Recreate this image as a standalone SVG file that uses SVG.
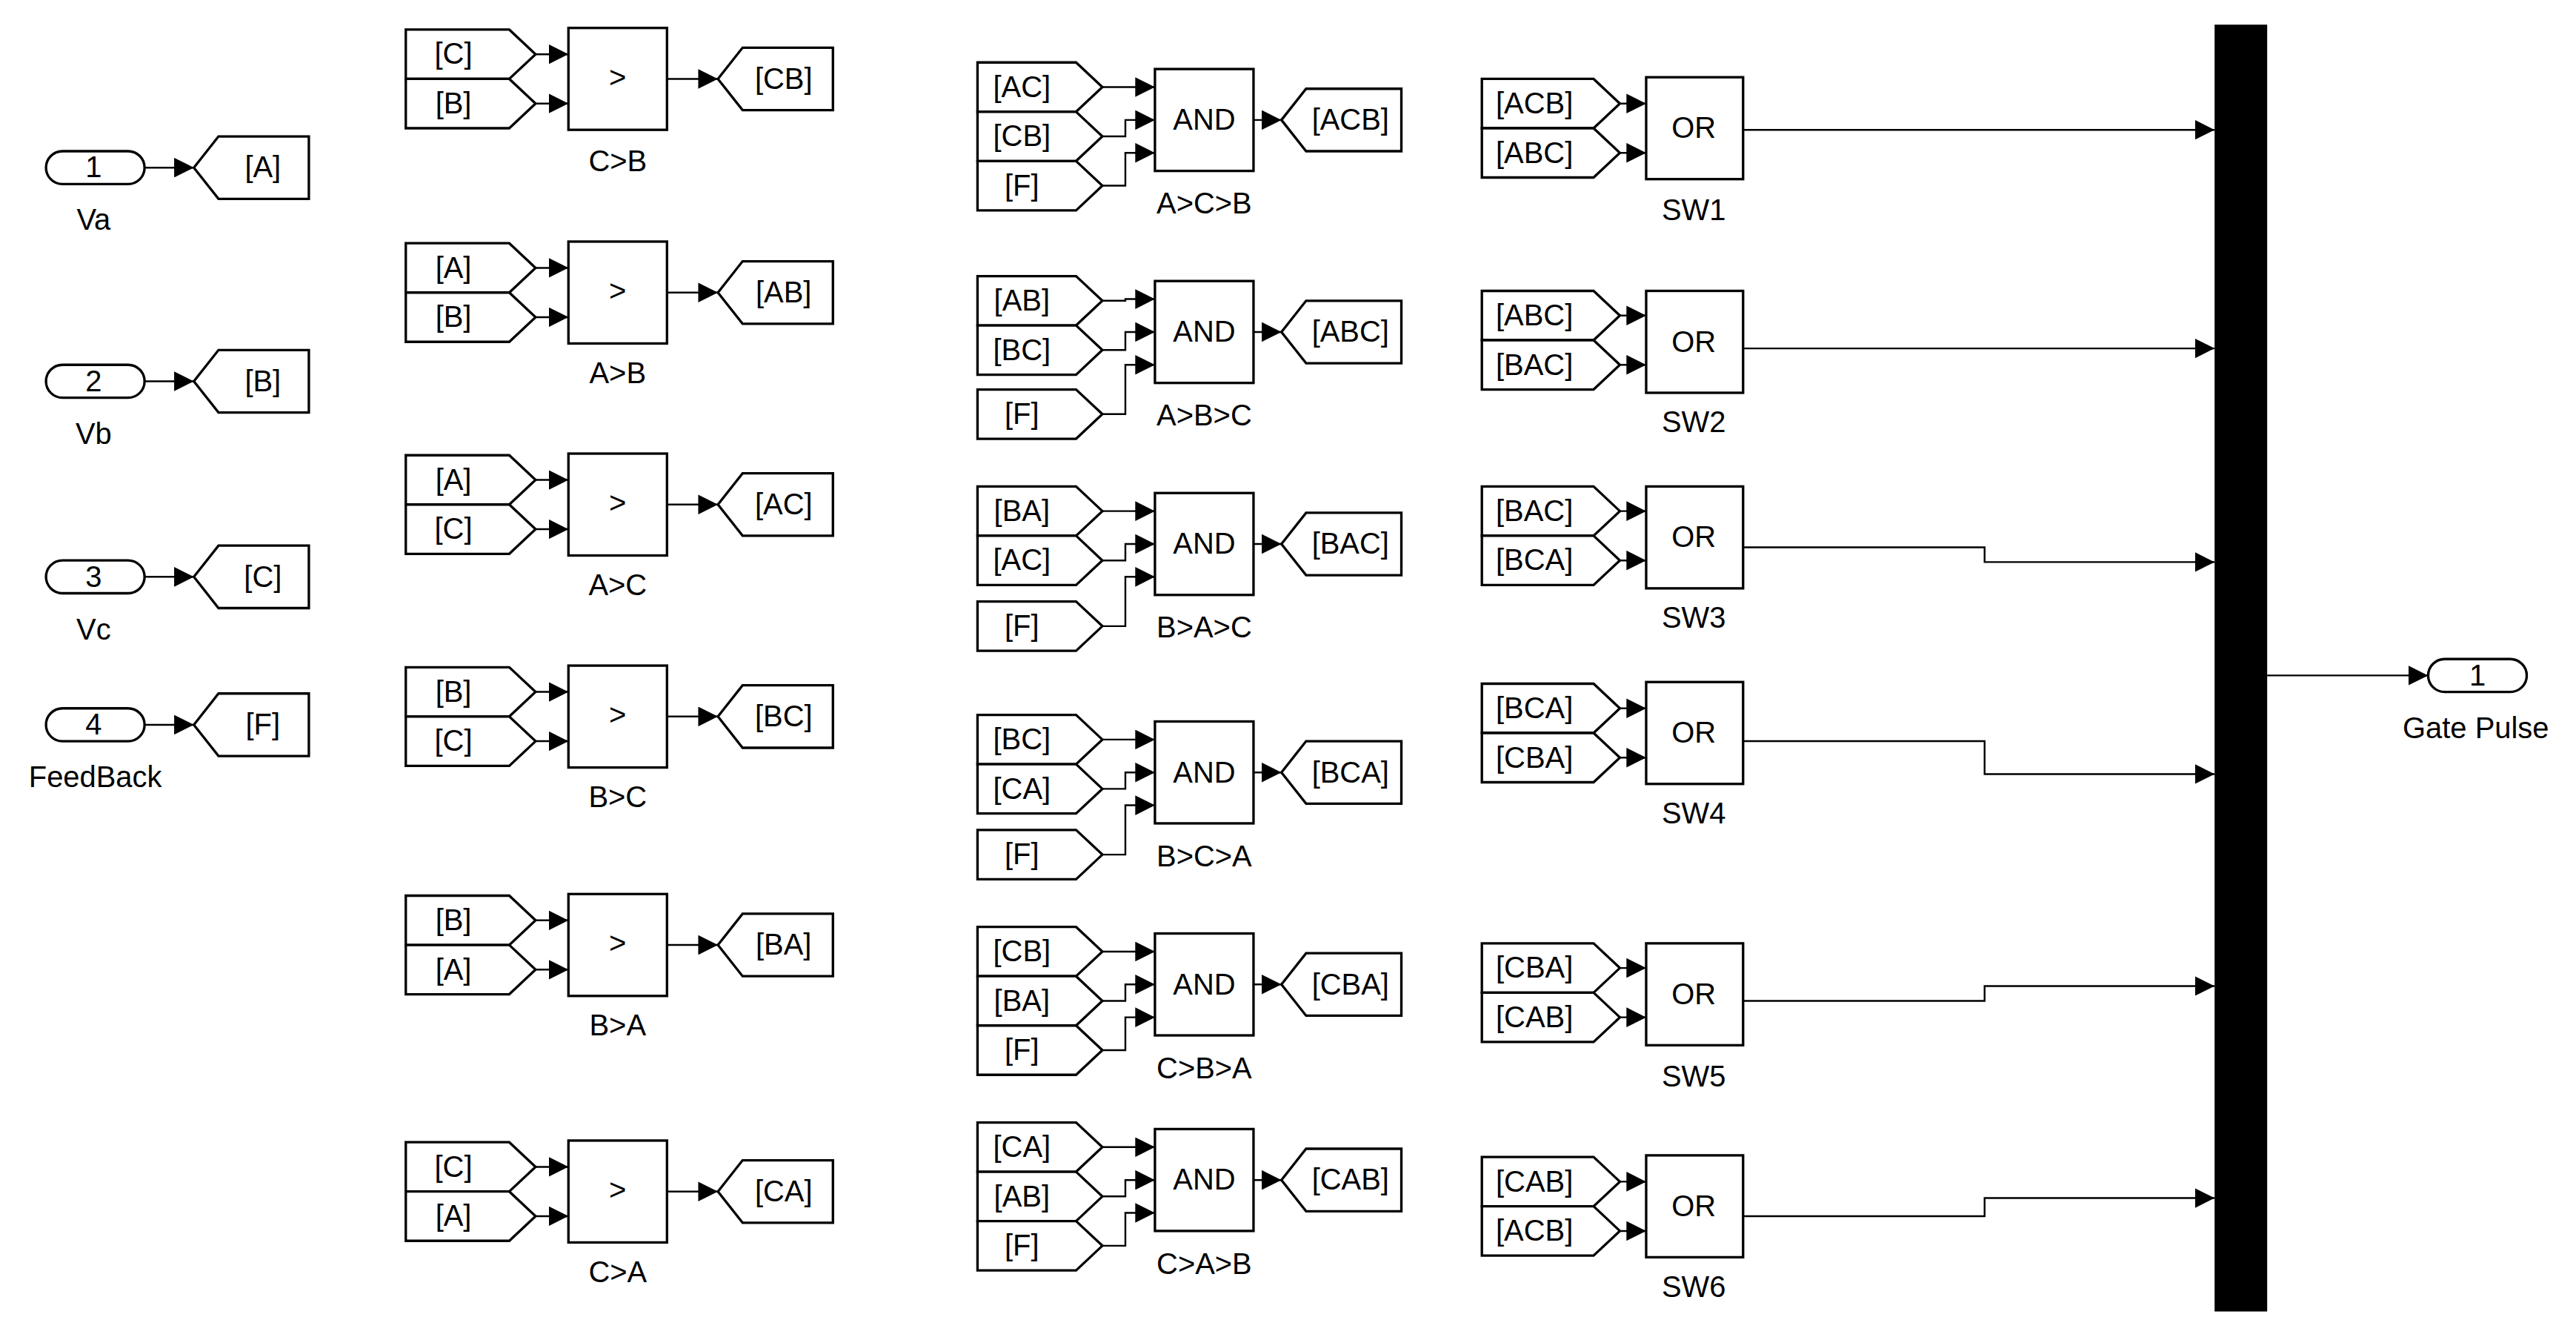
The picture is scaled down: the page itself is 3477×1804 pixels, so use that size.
<svg xmlns="http://www.w3.org/2000/svg" width="3477" height="1804" viewBox="0 0 3477 1804">
<defs>
<marker id="ar" markerUnits="userSpaceOnUse" markerWidth="13" markerHeight="12" refX="12" refY="6" orient="auto"><path d="M0,0 L12,6 L0,12 z" fill="#000"/></marker>
<style>
.b{fill:#fff;stroke:#000;stroke-width:1.5}
.t{font-family:"Liberation Sans",Arial,sans-serif;font-size:18px;fill:#000;text-anchor:middle}
.l{font-family:"Liberation Sans",Arial,sans-serif;font-size:18px;fill:#000;text-anchor:middle}
.c{fill:none;stroke:#000;stroke-width:1.1;marker-end:url(#ar)}
</style>
</defs>
<rect width="3477" height="1804" fill="#fff"/>
<g transform="scale(2.2175)">
<g id="in1"><rect class="b" x="28" y="92" width="60" height="20" rx="10"/><text class="t" x="57" y="108">1</text><text class="l" x="57" y="140">Va</text></g>
<g id="in2"><rect class="b" x="28" y="222" width="60" height="20" rx="10"/><text class="t" x="57" y="238">2</text><text class="l" x="57" y="270">Vb</text></g>
<g id="in3"><rect class="b" x="28" y="341" width="60" height="20" rx="10"/><text class="t" x="57" y="357">3</text><text class="l" x="57" y="389">Vc</text></g>
<g id="in4"><rect class="b" x="28" y="431" width="60" height="20" rx="10"/><text class="t" x="57" y="447">4</text><text class="l" x="58" y="479">FeedBack</text></g>
<g id="gA"><polygon class="b" points="118,102 133,83 188,83 188,121 133,121"/><text class="t" x="160" y="108">[A]</text></g>
<g id="gB"><polygon class="b" points="118,232 133,213 188,213 188,251 133,251"/><text class="t" x="160" y="238">[B]</text></g>
<g id="gC"><polygon class="b" points="118,351 133,332 188,332 188,370 133,370"/><text class="t" x="160" y="357">[C]</text></g>
<g id="gF"><polygon class="b" points="118,441 133,422 188,422 188,460 133,460"/><text class="t" x="160" y="447">[F]</text></g>

<g id="cmpCB"><polygon class="b" points="247,18 310,18 326,33 310,48 247,48"/><text class="t" x="276" y="39">[C]</text><polygon class="b" points="247,48 310,48 326,63 310,78 247,78"/><text class="t" x="276" y="69">[B]</text><rect class="b" x="346" y="17" width="60" height="62"/><text class="t" x="376" y="53">&gt;</text><text class="l" x="376" y="104">C&gt;B</text><polygon class="b" points="437,48 452,29 507,29 507,67 452,67"/><text class="t" x="477" y="54">[CB]</text></g>
<g id="cmpAB"><polygon class="b" points="247,148 310,148 326,163 310,178 247,178"/><text class="t" x="276" y="169">[A]</text><polygon class="b" points="247,178 310,178 326,193 310,208 247,208"/><text class="t" x="276" y="199">[B]</text><rect class="b" x="346" y="147" width="60" height="62"/><text class="t" x="376" y="183">&gt;</text><text class="l" x="376" y="233">A&gt;B</text><polygon class="b" points="437,178 452,159 507,159 507,197 452,197"/><text class="t" x="477" y="184">[AB]</text></g>
<g id="cmpAC"><polygon class="b" points="247,277 310,277 326,292 310,307 247,307"/><text class="t" x="276" y="298">[A]</text><polygon class="b" points="247,307 310,307 326,322 310,337 247,337"/><text class="t" x="276" y="328">[C]</text><rect class="b" x="346" y="276" width="60" height="62"/><text class="t" x="376" y="312">&gt;</text><text class="l" x="376" y="362">A&gt;C</text><polygon class="b" points="437,307 452,288 507,288 507,326 452,326"/><text class="t" x="477" y="313">[AC]</text></g>
<g id="cmpBC"><polygon class="b" points="247,406 310,406 326,421 310,436 247,436"/><text class="t" x="276" y="427">[B]</text><polygon class="b" points="247,436 310,436 326,451 310,466 247,466"/><text class="t" x="276" y="457">[C]</text><rect class="b" x="346" y="405" width="60" height="62"/><text class="t" x="376" y="441">&gt;</text><text class="l" x="376" y="491">B&gt;C</text><polygon class="b" points="437,436 452,417 507,417 507,455 452,455"/><text class="t" x="477" y="442">[BC]</text></g>
<g id="cmpBA"><polygon class="b" points="247,545 310,545 326,560 310,575 247,575"/><text class="t" x="276" y="566">[B]</text><polygon class="b" points="247,575 310,575 326,590 310,605 247,605"/><text class="t" x="276" y="596">[A]</text><rect class="b" x="346" y="544" width="60" height="62"/><text class="t" x="376" y="580">&gt;</text><text class="l" x="376" y="630">B&gt;A</text><polygon class="b" points="437,575 452,556 507,556 507,594 452,594"/><text class="t" x="477" y="581">[BA]</text></g>
<g id="cmpCA"><polygon class="b" points="247,695 310,695 326,710 310,725 247,725"/><text class="t" x="276" y="716">[C]</text><polygon class="b" points="247,725 310,725 326,740 310,755 247,755"/><text class="t" x="276" y="746">[A]</text><rect class="b" x="346" y="694" width="60" height="62"/><text class="t" x="376" y="730">&gt;</text><text class="l" x="376" y="780">C&gt;A</text><polygon class="b" points="437,725 452,706 507,706 507,744 452,744"/><text class="t" x="477" y="731">[CA]</text></g>

<g id="and1"><polygon class="b" points="595,38 655,38 671,53 655,68 595,68"/><text class="t" x="622" y="59">[AC]</text><polygon class="b" points="595,68 655,68 671,83 655,98 595,98"/><text class="t" x="622" y="89">[CB]</text><polygon class="b" points="595,98 655,98 671,113 655,128 595,128"/><text class="t" x="622" y="119">[F]</text><rect class="b" x="703" y="42" width="60" height="62"/><text class="t" x="733" y="79">AND</text><text class="l" x="733" y="130">A&gt;C&gt;B</text><polygon class="b" points="780,73 795,54 853,54 853,92 795,92"/><text class="t" x="822" y="79">[ACB]</text></g>
<g id="and2"><polygon class="b" points="595,168 655,168 671,183 655,198 595,198"/><text class="t" x="622" y="189">[AB]</text><polygon class="b" points="595,198 655,198 671,213 655,228 595,228"/><text class="t" x="622" y="219">[BC]</text><polygon class="b" points="595,237 655,237 671,252 655,267 595,267"/><text class="t" x="622" y="258">[F]</text><rect class="b" x="703" y="171" width="60" height="62"/><text class="t" x="733" y="208">AND</text><text class="l" x="733" y="259">A&gt;B&gt;C</text><polygon class="b" points="780,202 795,183 853,183 853,221 795,221"/><text class="t" x="822" y="208">[ABC]</text></g>
<g id="and3"><polygon class="b" points="595,296 655,296 671,311 655,326 595,326"/><text class="t" x="622" y="317">[BA]</text><polygon class="b" points="595,326 655,326 671,341 655,356 595,356"/><text class="t" x="622" y="347">[AC]</text><polygon class="b" points="595,366 655,366 671,381 655,396 595,396"/><text class="t" x="622" y="387">[F]</text><rect class="b" x="703" y="300" width="60" height="62"/><text class="t" x="733" y="337">AND</text><text class="l" x="733" y="388">B&gt;A&gt;C</text><polygon class="b" points="780,331 795,312 853,312 853,350 795,350"/><text class="t" x="822" y="337">[BAC]</text></g>
<g id="and4"><polygon class="b" points="595,435 655,435 671,450 655,465 595,465"/><text class="t" x="622" y="456">[BC]</text><polygon class="b" points="595,465 655,465 671,480 655,495 595,495"/><text class="t" x="622" y="486">[CA]</text><polygon class="b" points="595,505 655,505 671,520 655,535 595,535"/><text class="t" x="622" y="526">[F]</text><rect class="b" x="703" y="439" width="60" height="62"/><text class="t" x="733" y="476">AND</text><text class="l" x="733" y="527">B&gt;C&gt;A</text><polygon class="b" points="780,470 795,451 853,451 853,489 795,489"/><text class="t" x="822" y="476">[BCA]</text></g>
<g id="and5"><polygon class="b" points="595,564 655,564 671,579 655,594 595,594"/><text class="t" x="622" y="585">[CB]</text><polygon class="b" points="595,594 655,594 671,609 655,624 595,624"/><text class="t" x="622" y="615">[BA]</text><polygon class="b" points="595,624 655,624 671,639 655,654 595,654"/><text class="t" x="622" y="645">[F]</text><rect class="b" x="703" y="568" width="60" height="62"/><text class="t" x="733" y="605">AND</text><text class="l" x="733" y="656">C&gt;B&gt;A</text><polygon class="b" points="780,599 795,580 853,580 853,618 795,618"/><text class="t" x="822" y="605">[CBA]</text></g>
<g id="and6"><polygon class="b" points="595,683 655,683 671,698 655,713 595,713"/><text class="t" x="622" y="704">[CA]</text><polygon class="b" points="595,713 655,713 671,728 655,743 595,743"/><text class="t" x="622" y="734">[AB]</text><polygon class="b" points="595,743 655,743 671,758 655,773 595,773"/><text class="t" x="622" y="764">[F]</text><rect class="b" x="703" y="687" width="60" height="62"/><text class="t" x="733" y="724">AND</text><text class="l" x="733" y="775">C&gt;A&gt;B</text><polygon class="b" points="780,718 795,699 853,699 853,737 795,737"/><text class="t" x="822" y="724">[CAB]</text></g>

<g id="sw1"><polygon class="b" points="902,48 970,48 986,63 970,78 902,78"/><text class="t" x="934" y="69">[ACB]</text><polygon class="b" points="902,78 970,78 986,93 970,108 902,108"/><text class="t" x="934" y="99">[ABC]</text><rect class="b" x="1002" y="47" width="59" height="62"/><text class="t" x="1031" y="84">OR</text><text class="l" x="1031" y="134">SW1</text></g>
<g id="sw2"><polygon class="b" points="902,177 970,177 986,192 970,207 902,207"/><text class="t" x="934" y="198">[ABC]</text><polygon class="b" points="902,207 970,207 986,222 970,237 902,237"/><text class="t" x="934" y="228">[BAC]</text><rect class="b" x="1002" y="177" width="59" height="62"/><text class="t" x="1031" y="214">OR</text><text class="l" x="1031" y="263">SW2</text></g>
<g id="sw3"><polygon class="b" points="902,296 970,296 986,311 970,326 902,326"/><text class="t" x="934" y="317">[BAC]</text><polygon class="b" points="902,326 970,326 986,341 970,356 902,356"/><text class="t" x="934" y="347">[BCA]</text><rect class="b" x="1002" y="296" width="59" height="62"/><text class="t" x="1031" y="333">OR</text><text class="l" x="1031" y="382">SW3</text></g>
<g id="sw4"><polygon class="b" points="902,416 970,416 986,431 970,446 902,446"/><text class="t" x="934" y="437">[BCA]</text><polygon class="b" points="902,446 970,446 986,461 970,476 902,476"/><text class="t" x="934" y="467">[CBA]</text><rect class="b" x="1002" y="415" width="59" height="62"/><text class="t" x="1031" y="452">OR</text><text class="l" x="1031" y="501">SW4</text></g>
<g id="sw5"><polygon class="b" points="902,574 970,574 986,589 970,604 902,604"/><text class="t" x="934" y="595">[CBA]</text><polygon class="b" points="902,604 970,604 986,619 970,634 902,634"/><text class="t" x="934" y="625">[CAB]</text><rect class="b" x="1002" y="574" width="59" height="62"/><text class="t" x="1031" y="611">OR</text><text class="l" x="1031" y="661">SW5</text></g>
<g id="sw6"><polygon class="b" points="902,704 970,704 986,719 970,734 902,734"/><text class="t" x="934" y="725">[CAB]</text><polygon class="b" points="902,734 970,734 986,749 970,764 902,764"/><text class="t" x="934" y="755">[ACB]</text><rect class="b" x="1002" y="703" width="59" height="62"/><text class="t" x="1031" y="740">OR</text><text class="l" x="1031" y="789">SW6</text></g>

<g id="mux"><rect x="1348" y="15" width="32" height="783" fill="#000"/></g>
<g id="out1"><rect class="b" x="1478" y="401" width="60" height="20" rx="10"/><text class="t" x="1508" y="417">1</text><text class="l" x="1507" y="449">Gate Pulse</text></g>

<g id="connectors">
<path class="c" d="M88,102H118"/><path class="c" d="M88,232H118"/><path class="c" d="M88,351H118"/><path class="c" d="M88,441H118"/>
<path class="c" d="M326,33H346"/><path class="c" d="M326,63H346"/><path class="c" d="M406,48H437"/>
<path class="c" d="M326,163H346"/><path class="c" d="M326,193H346"/><path class="c" d="M406,178H437"/>
<path class="c" d="M326,292H346"/><path class="c" d="M326,322H346"/><path class="c" d="M406,307H437"/>
<path class="c" d="M326,421H346"/><path class="c" d="M326,451H346"/><path class="c" d="M406,436H437"/>
<path class="c" d="M326,560H346"/><path class="c" d="M326,590H346"/><path class="c" d="M406,575H437"/>
<path class="c" d="M326,710H346"/><path class="c" d="M326,740H346"/><path class="c" d="M406,725H437"/>

<path class="c" d="M671,53H703"/><path class="c" d="M671,83H685V73H703"/><path class="c" d="M671,113H685V93H703"/><path class="c" d="M763,73H780"/>
<path class="c" d="M671,183H685V182H703"/><path class="c" d="M671,213H685V202H703"/><path class="c" d="M671,252H685V222H703"/><path class="c" d="M763,202H780"/>
<path class="c" d="M671,311H703"/><path class="c" d="M671,341H685V331H703"/><path class="c" d="M671,381H685V351H703"/><path class="c" d="M763,331H780"/>
<path class="c" d="M671,450H703"/><path class="c" d="M671,480H685V470H703"/><path class="c" d="M671,520H685V490H703"/><path class="c" d="M763,470H780"/>
<path class="c" d="M671,579H703"/><path class="c" d="M671,609H685V599H703"/><path class="c" d="M671,639H685V619H703"/><path class="c" d="M763,599H780"/>
<path class="c" d="M671,698H703"/><path class="c" d="M671,728H685V718H703"/><path class="c" d="M671,758H685V738H703"/><path class="c" d="M763,718H780"/>

<path class="c" d="M986,63H1002"/><path class="c" d="M986,93H1002"/><path class="c" d="M1061,79H1348"/>
<path class="c" d="M986,192H1002"/><path class="c" d="M986,222H1002"/><path class="c" d="M1061,212H1348"/>
<path class="c" d="M986,311H1002"/><path class="c" d="M986,341H1002"/><path class="c" d="M1061,333H1208V342H1348"/>
<path class="c" d="M986,431H1002"/><path class="c" d="M986,461H1002"/><path class="c" d="M1061,451H1208V471H1348"/>
<path class="c" d="M986,589H1002"/><path class="c" d="M986,619H1002"/><path class="c" d="M1061,609H1208V600H1348"/>
<path class="c" d="M986,719H1002"/><path class="c" d="M986,749H1002"/><path class="c" d="M1061,740H1208V729H1348"/>
<path class="c" d="M1380,411H1478"/>
</g>
</g>
</svg>
